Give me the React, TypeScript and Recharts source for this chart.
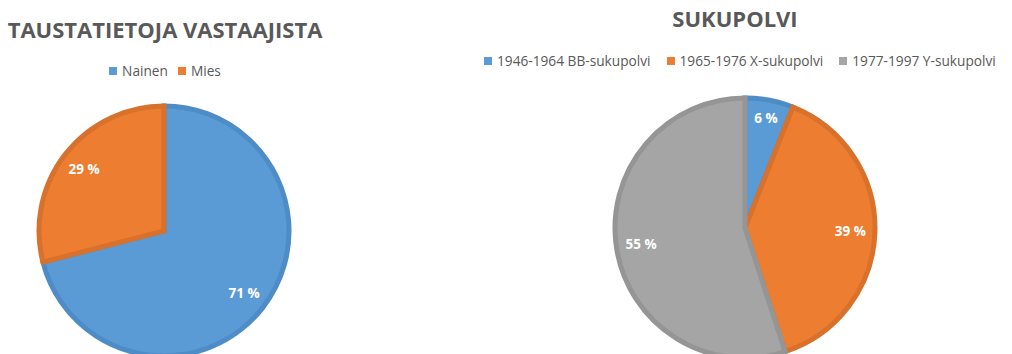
import React from 'react';
import { PieChart, Pie, Cell } from 'recharts';

const genderNames = ['Nainen', 'Mies'];
const genderValues = [71, 29];
const genderColors = ['#5B9BD5', '#ED7D31'];
const genderBorders = ['#4E8CC7', '#D8712B'];

const generationNames = ['1946-1964 BB-sukupolvi', '1965-1976 X-sukupolvi', '1977-1997 Y-sukupolvi'];
const generationValues = [6, 39, 55];
const generationColors = ['#5B9BD5', '#ED7D31', '#A5A5A5'];
const generationBorders = ['#4E8CC7', '#D8712B', '#959595'];

const genderData = genderNames.map((name, i) => ({ name, value: genderValues[i] }));
const generationData = generationNames.map((name, i) => ({ name, value: generationValues[i] }));

const FONT = '"Open Sans", "Noto Sans", sans-serif';
const RAD = Math.PI / 180;
const noMargin = { top: 0, right: 0, bottom: 0, left: 0 };

const renderLabel = (props: any) => {
  const { cx, cy, midAngle, outerRadius, value } = props;
  // small slices sit a bit closer to the rim
  const r = outerRadius * (value < 10 ? 0.86 : 0.81);
  const x = cx + r * Math.cos(-midAngle * RAD);
  const y = cy + r * Math.sin(-midAngle * RAD);
  return (
    <text x={x} y={y} fill="#fff" fontFamily={FONT} fontSize={13.5} fontWeight={700} textAnchor="middle" dominantBaseline="central">
      {`${value} %`}
    </text>
  );
};

const LegendRow = ({ names, colors, gap, align }: { names: string[]; colors: string[]; gap: number; align: string }) => (
  <div style={{ display: 'flex', justifyContent: align, fontFamily: FONT, fontSize: 13.7, color: '#595959', whiteSpace: 'nowrap' }}>
    {names.map((name, i) => (
      <span key={`lg-${i}`} style={{ display: 'flex', alignItems: 'center', marginRight: i < names.length - 1 ? gap : 0 }}>
        <span style={{ display: 'inline-block', width: 8, height: 8, background: colors[i], marginRight: 5 }} />
        {name}
      </span>
    ))}
  </div>
);

const titleStyle: React.CSSProperties = {
  position: 'absolute',
  fontFamily: FONT,
  fontWeight: 700,
  fontSize: 22,
  color: '#595959',
  textAlign: 'center',
  whiteSpace: 'nowrap',
};

export default function App() {
  return (
    <div style={{ position: 'absolute', left: 0, top: 0, width: 1012, height: 354, overflow: 'hidden', background: '#fff' }}>
      <div style={{ position: 'absolute', left: 0, top: 0 }}>
        <PieChart width={330} height={354} margin={noMargin}>
          <Pie
            data={genderData}
            dataKey="value"
            nameKey="name"
            cx={164}
            cy={231}
            outerRadius={125}
            startAngle={90}
            endAngle={-270}
            strokeWidth={5}
            label={renderLabel}
            labelLine={false}
            isAnimationActive={false}
          >
            {genderData.map((d, i) => (
              <Cell key={`g-${i}`} fill={genderColors[i]} stroke={genderBorders[i]} />
            ))}
          </Pie>
        </PieChart>
      </div>

      <div style={{ position: 'absolute', left: 478, top: 0 }}>
        <PieChart width={534} height={354} margin={noMargin}>
          <Pie
            data={generationData}
            dataKey="value"
            nameKey="name"
            cx={267}
            cy={228}
            outerRadius={130}
            startAngle={90}
            endAngle={-270}
            strokeWidth={5}
            label={renderLabel}
            labelLine={false}
            isAnimationActive={false}
          >
            {generationData.map((d, i) => (
              <Cell key={`y-${i}`} fill={generationColors[i]} stroke={generationBorders[i]} />
            ))}
          </Pie>
        </PieChart>
      </div>

      <div style={{ ...titleStyle, left: 0, top: 14, width: 330 }}>TAUSTATIETOJA VASTAAJISTA</div>
      <div style={{ ...titleStyle, left: 478, top: 3, width: 514 }}>SUKUPOLVI</div>
      <div style={{ position: 'absolute', left: 0, top: 61, width: 330 }}>
        <LegendRow names={genderNames} colors={genderColors} gap={10} align="center" />
      </div>
      <div style={{ position: 'absolute', left: 484, top: 51, width: 540 }}>
        <LegendRow names={generationNames} colors={generationColors} gap={16} align="flex-start" />
      </div>
    </div>
  );
}
